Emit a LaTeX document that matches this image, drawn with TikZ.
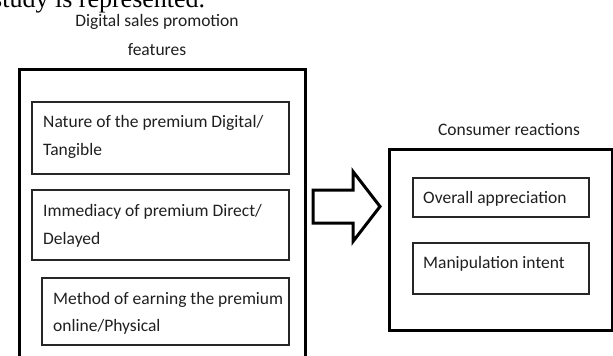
\documentclass[tikz,border=0pt]{standalone}
\usepackage{fontspec}
\usetikzlibrary{calc}
\setmainfont{Carlito}
\newfontfamily\serifbody{Liberation Serif}
\begin{document}
\begin{tikzpicture}[x=1pt,y=-1pt,
  outerbox/.style={draw=black, line width=3pt, rectangle, inner sep=0pt, anchor=north west},
  innerbox/.style={draw=black!85, line width=1.8pt, rectangle, inner sep=0pt, anchor=north west},
  txt/.style={anchor=base west, inner sep=0pt, font=\fontsize{17.5}{28}\selectfont, text=black!88},
  ttl/.style={anchor=base, inner sep=0pt, font=\fontsize{17.5}{28}\selectfont, text=black!88},
  blockarrow/.style={draw=black, line width=3pt, line join=miter, fill=white}]
\clip (0,0) rectangle (613,356);
% fragment of the body text above the figure
\node[anchor=base west, inner sep=0pt, font=\serifbody\fontsize{26}{30}\selectfont] (cap) at (-8,7) {study is represented.};
% titles
\node[ttl] (t1) at (157,27) {Digital sales promotion};
\node[ttl] (t2) at (157,55) {features};
\node[ttl] (t3) at (509,135) {Consumer reactions};
% outer boxes
\node[outerbox, minimum width=286pt, minimum height=300pt] (L) at (18,68) {};
\node[outerbox, minimum width=223pt, minimum height=181pt] (R) at (388,148) {};
% inner boxes, left
\node[innerbox, minimum width=257pt, minimum height=72pt] (b1) at (31,101) {};
\node[txt] (b1a) at (43,127) {Nature of the premium Digital/};
\node[txt] (b1b) at (43,155) {Tangible};
\node[innerbox, minimum width=257pt, minimum height=70pt] (b2) at (31,189) {};
\node[txt] (b2a) at (43,216) {Immediacy of premium Direct/};
\node[txt] (b2b) at (43,244) {Delayed};
\node[innerbox, minimum width=247pt, minimum height=67pt] (b3) at (41,277) {};
\node[txt] (b3a) at (53,304) {Method of earning the premium};
\node[txt] (b3b) at (53,331) {online/Physical};
% inner boxes, right
\node[innerbox, minimum width=176pt, minimum height=39pt] (r1) at (412,177) {};
\node[txt] (r1a) at (423,203) {Overall appreciation};
\node[innerbox, minimum width=176pt, minimum height=51pt] (r2) at (412,242) {};
\node[txt] (r2a) at (423,268) {Manipulation intent};
% block arrow from left box to right box
\coordinate (aS) at (L.east |- 0,206.5);
\coordinate (aT) at (R.west |- 0,206.5);
\draw[blockarrow] ($(aS)+(6,-16.5)$) -- ($(aS)+(46,-16.5)$) -- ($(aS)+(46,-35)$)
  -- ($(aT)+(-8,0)$) -- ($(aS)+(46,35)$) -- ($(aS)+(46,16.5)$) -- ($(aS)+(6,16.5)$) -- cycle;
\end{tikzpicture}
\end{document}
